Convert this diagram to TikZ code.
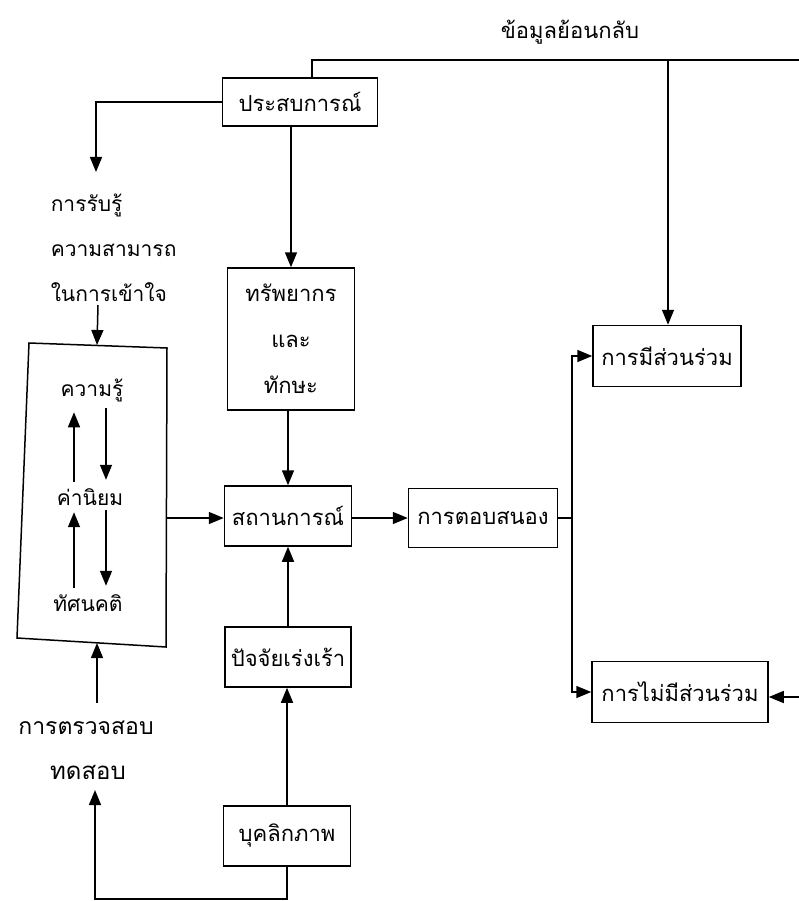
\documentclass[tikz,border=0pt]{standalone}
\usepackage{fontspec}
\newfontfamily\thai[Script=Thai]{Loma}
\usetikzlibrary{arrows.meta,calc}
\begin{document}
\begin{tikzpicture}[x=1pt,y=-1pt,
  line width=1.5pt,
  every node/.style={font=\thai\fontsize{21}{24}\selectfont},
  arr/.style={-{Triangle[length=15pt,width=12pt]}},
  bx/.style={draw,inner sep=0pt,align=center,font=\thai\fontsize{22}{24}\selectfont},
  lbl/.style={inner sep=0pt}]
\useasboundingbox (0,0) rectangle (799,901);
% boxes
\node[bx,minimum width=155,minimum height=48] (exp) at (300,102) {ประสบการณ์};
\node[bx,minimum width=127,minimum height=142,font=\thai\fontsize{22}{46}\selectfont] (res) at (291,339) {ทรัพยากร\\และ\\ทักษะ};
\node[bx,minimum width=127,minimum height=60] (sit) at (288,516) {สถานการณ์};
\node[bx,minimum width=149,minimum height=59] (resp) at (483,518) {การตอบสนอง};
\node[bx,minimum width=148,minimum height=61] (part) at (667,356) {การมีส่วนร่วม};
\node[bx,minimum width=176,minimum height=61] (nonpart) at (680,692) {การไม่มีส่วนร่วม};
\node[bx,minimum width=126,minimum height=60] (stim) at (288,657) {ปัจจัยเร่งเร้า};
\node[bx,minimum width=127,minimum height=60] (pers) at (287,836) {บุคลิกภาพ};
% left box
\draw (29,343) coordinate (lb1) -- (167,348) coordinate (lb2) -- (166,647) coordinate (lb3) -- (17,638) coordinate (lb4) -- cycle;
\coordinate (lbtop) at (97,345);
\coordinate (lbbot) at (97,643);
\coordinate (lbright) at (166,518);
% texts
\node[lbl,font=\thai\fontsize{22}{24}\selectfont] (fb) at (570,32) {ข้อมูลย้อนกลับ};
\node[lbl,anchor=west,align=left,font=\thai\fontsize{21}{45}\selectfont] (perc) at (50,248) {การรับรู้\\ความสามารถ\\ในการเข้าใจ};
\node[lbl] (know) at (92,390) {ความรู้};
\node[lbl] (val) at (90,497) {ค่านิยม};
\node[lbl] (att) at (88,603) {ทัศนคติ};
\node[lbl,font=\thai\fontsize{23}{24}\selectfont] (chk) at (86,728) {การตรวจสอบ};
\node[lbl,font=\thai\fontsize{24}{24}\selectfont] (tst) at (88,772) {ทดสอบ};
% coordinates
\coordinate (xl) at (74,0);
\coordinate (xr) at (106,0);
\coordinate (la) at (96,172);
\coordinate (lp) at (98,305);
\coordinate (fbs) at (312,78);
\coordinate (fbe) at (799,60);
\coordinate (fbj) at (668,60);
\coordinate (br) at (572,518);
\coordinate (rin) at (799,697);
\coordinate (bot) at (95,899);
\coordinate (tstb) at (95,790);
\coordinate (chkt) at (97,703);
% connectors
\draw[arr] (exp.west) -| (la);
\draw[arr] (lp) -- (lbtop);
\draw (fbs) |- (fbe);
\draw[arr] (fbj) -- (fbj |- part.north);
\draw[arr] (exp.south -| res.north) -- (res.north);
\draw[arr] (res.south -| sit.north) -- (sit.north);
\draw[arr] (lbright) -- (sit.west |- lbright);
\draw[arr] (sit.east |- resp.west) -- (resp.west);
\draw (resp.east) -- (br);
\draw[arr] (br) |- (part.west);
\draw[arr] (br) |- (nonpart.west);
\draw[arr] (rin) -- (nonpart.east |- rin);
\draw[arr] (stim.north) -- (sit.south -| stim.north);
\draw[arr] (pers.north) -- (stim.south -| pers.north);
\draw[arr] (pers.south) |- (bot) -- (tstb);
\draw[arr] (chkt) -- (lbbot);
% inner arrows
\draw[arr] ($(val.north -| xl)+(0,-6)$) -- ($(know.south -| xl)+(0,10)$);
\draw[arr] ($(know.south -| xr)+(0,6)$) -- ($(val.north -| xr)+(0,-8)$);
\draw[arr] ($(att.north -| xl)+(0,-6)$) -- ($(val.south -| xl)+(0,6)$);
\draw[arr] ($(val.south -| xr)+(0,4)$) -- ($(att.north -| xr)+(0,-8)$);
\end{tikzpicture}
\end{document}
